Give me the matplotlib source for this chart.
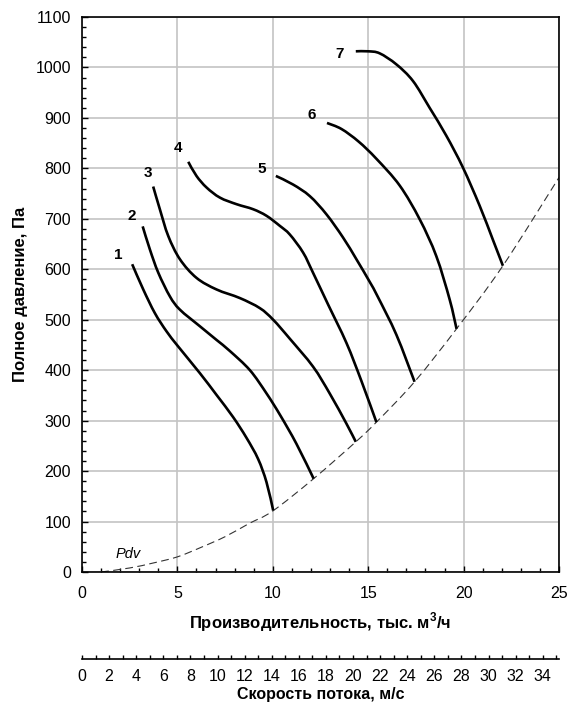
import matplotlib
matplotlib.use('Agg')
from matplotlib import pyplot as plt
from matplotlib.ticker import MultipleLocator
from matplotlib.path import Path
from matplotlib.patches import PathPatch

plt.rcParams['font.family'] = ['Liberation Sans', 'DejaVu Sans']
plt.rcParams['mathtext.fontset'] = 'custom'
plt.rcParams['mathtext.rm'] = 'Liberation Sans'
plt.rcParams['mathtext.bf'] = 'Liberation Sans:bold'

# fan curves: flow (thousand m3/h) vs total pressure (Pa)
q1 = [2.63, 3.21, 3.82, 4.43, 5.04, 6.18, 7.05, 7.92, 8.62, 9.23, 9.67, 10.02]
p1 = [610, 560, 513, 477, 447, 394, 351, 307, 266, 224, 178, 122]
q2 = [3.18, 3.56, 4.0, 4.61, 5.13, 6.18, 7.05, 7.75, 8.8, 9.67, 10.4, 11.24, 12.14]
p2 = [685, 639, 593, 546, 520, 487, 460, 438, 400, 354, 310, 254, 185]
q3 = [3.73, 4.08, 4.52, 5.13, 6.0, 7.05, 8.27, 9.32, 10.02, 10.9, 12.11, 12.98, 13.86, 14.35]
p3 = [764, 719, 666, 620, 583, 560, 543, 523, 500, 462, 407, 354, 294, 258]
q4 = [5.57, 6.0, 6.53, 7.23, 8.1, 8.97, 9.67, 10.37, 10.89, 11.59, 12.11, 12.9, 13.86, 14.65, 15.43]
p4 = [813, 785, 762, 742, 729, 719, 706, 686, 669, 633, 593, 530, 454, 378, 297]
q5 = [10.16, 11.06, 11.94, 12.81, 13.68, 14.38, 15.08, 15.51, 16.48, 17.43]
p5 = [785, 768, 745, 709, 663, 620, 575, 545, 470, 377]
q6 = [12.84, 13.6, 14.5, 15.43, 16.65, 17.7, 18.57, 19.27, 19.63]
p6 = [890, 878, 853, 819, 766, 699, 626, 540, 482]
q7 = [14.35, 15.0, 15.6, 16.48, 17.35, 18.22, 19.09, 19.96, 20.84, 21.53, 22.06]
p7 = [1032, 1032, 1028, 1006, 973, 920, 865, 802, 726, 659, 607]
curve_names = ['1', '2', '3', '4', '5', '6', '7']
name_q = [1.88, 2.62, 3.46, 5.03, 9.42, 12.04, 13.5]
name_p = [629, 705, 791, 841, 799, 906, 1026]

# dynamic pressure line
q_dyn = [1.0, 2.5, 3.75, 5, 6.25, 7.5, 8.75, 10, 12.14, 14.35, 15.43, 17.43, 19.63, 22.06, 25]
p_dyn = [0, 8, 18, 30, 49, 70, 96, 121, 185, 258, 297, 377, 482, 607, 782]


def smooth_path(q, p):
    # catmull-rom through the read points, as bezier segments
    pts = list(zip(q, p))
    verts = [pts[0]]
    codes = [Path.MOVETO]
    n = len(pts)
    for i in range(n - 1):
        a = pts[i - 1] if i > 0 else pts[i]
        b = pts[i]
        c = pts[i + 1]
        d = pts[i + 2] if i + 2 < n else pts[i + 1]
        c1 = (b[0] + (c[0] - a[0]) / 6, b[1] + (c[1] - a[1]) / 6)
        c2 = (c[0] - (d[0] - b[0]) / 6, c[1] - (d[1] - b[1]) / 6)
        verts += [c1, c2, c]
        codes += [Path.CURVE4] * 3
    return Path(verts, codes)


fig = plt.figure(figsize=(5.76, 7.04), dpi=100)
ax = fig.add_axes([82 / 576, 1 - 572 / 704, 477 / 576, 555 / 704])

for q, p in [(q1, p1), (q2, p2), (q3, p3), (q4, p4), (q5, p5), (q6, p6), (q7, p7)]:
    ax.add_patch(PathPatch(smooth_path(q, p), fill=False, ec='black', lw=1.9,
                           capstyle='butt', zorder=3))
for name, x, y in zip(curve_names, name_q, name_p):
    ax.text(x, y, name, fontsize=11, fontweight='bold', ha='center', va='center')

ax.add_patch(PathPatch(smooth_path(q_dyn, p_dyn), fill=False, ec='#333333', lw=0.8,
                       linestyle=(0, (7, 4)), zorder=2))
ax.text(2.41, 36, 'Pdv', fontsize=10.5, style='italic', ha='center', va='center')

ax.set_xlim(0, 25)
ax.set_ylim(0, 1100)
ax.xaxis.set_major_locator(MultipleLocator(5))
ax.xaxis.set_minor_locator(MultipleLocator(1))
ax.yaxis.set_major_locator(MultipleLocator(100))
ax.yaxis.set_minor_locator(MultipleLocator(20))
ax.tick_params(which='both', direction='in', labelsize=11.5, width=1)
ax.tick_params(which='major', length=4)
ax.tick_params(which='minor', length=3)
ax.tick_params(axis='x', pad=10)
ax.tick_params(axis='y', pad=8)
ax.grid(True, which='major', color='#c4c4c4', lw=1.2)
ax.set_axisbelow(True)
for s in ax.spines.values():
    s.set_linewidth(1.2)

ax.set_xlabel(r'Производительность, тыс. м$^{\mathbf{3}}$/ч', fontsize=12,
              fontweight='bold', labelpad=7)
ax.set_ylabel('Полное давление, Па', fontsize=12, fontweight='bold', labelpad=5)

# air velocity scale
ax2 = fig.add_axes([82 / 576, 1 - 659 / 704, 477 / 576, 0.001])
ax2.set_xlim(0, 35.2)
ax2.set_yticks([])
for side in ['top', 'left', 'right']:
    ax2.spines[side].set_visible(False)
ax2.spines['bottom'].set_linewidth(1.2)
ax2.xaxis.set_major_locator(MultipleLocator(2))
ax2.xaxis.set_minor_locator(MultipleLocator(1))
ax2.tick_params(which='both', direction='in', labelsize=11.5, width=1, length=3, pad=7)
fig.text(320.5 / 576, 1.5 / 704, 'Скорость потока, м/с', fontsize=11.5, fontweight='bold',
         ha='center', va='bottom')

fig.savefig('out.png', dpi=100)
